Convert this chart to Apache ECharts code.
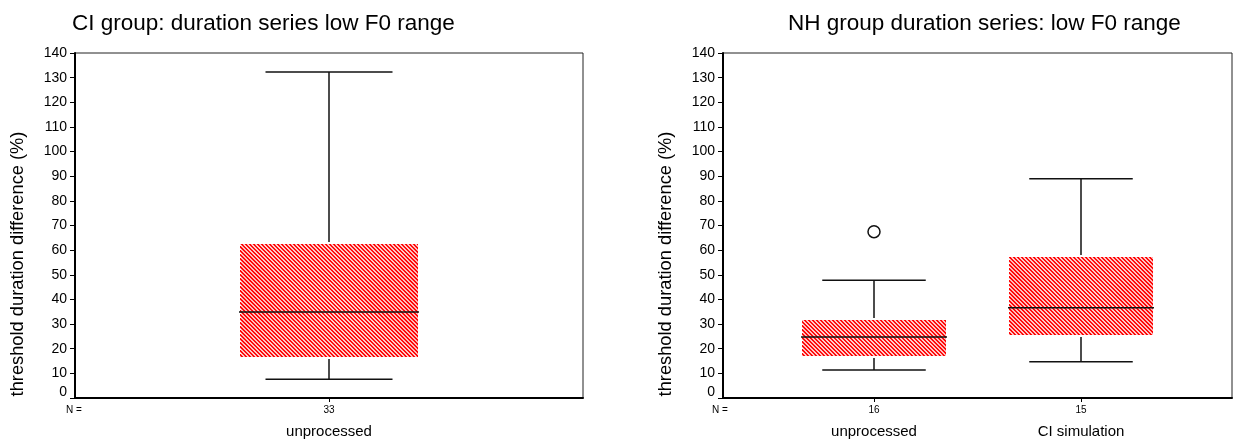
<!DOCTYPE html>
<html>
<head>
<meta charset="utf-8">
<script src="https://cdn.jsdelivr.net/npm/echarts@6/dist/echarts.min.js"></script>
<style>
  html, body { margin: 0; padding: 0; background: #fff; }
  #chart { width: 1234px; height: 441px; }
</style>
</head>
<body>
<div id="chart"></div>
<script>
// ---- data ----
const leftTitle = 'CI group: duration series low F0 range';
const rightTitle = 'NH group duration series: low F0 range';
const yAxisTitle = 'threshold duration difference (%)';
const yTicks = [0, 140, 10]; // min, max, step

const leftCategories = ['unprocessed'];
const leftN = [33];
// [lower whisker, Q1, median, Q3, upper whisker]
const leftBoxes = [[7.6, 16.6, 34.9, 62.4, 132.3]];

const rightCategories = ['unprocessed', 'CI simulation'];
const rightN = [16, 15];
const rightBoxes = [
  [11.4, 17.0, 24.8, 31.7, 47.8],
  [14.7, 25.7, 36.6, 57.1, 89.0]
];
// [category index (0-based), value]
const rightOutliers = [[0, 67.5]];

// ---- styling helpers ----
const FONT = '"Liberation Sans", Arial, Helvetica, sans-serif';

function boxRender(params, api) {
  const x = api.value(0);
  const lo = api.value(1), q1 = api.value(2), md = api.value(3), q3 = api.value(4), hi = api.value(5);
  const bw = 0.35, cw = 0.25;
  const pL = Math.round(api.coord([x - bw, md])[0]);
  const pR = Math.round(api.coord([x + bw, md])[0]);
  const cL = api.coord([x - cw, md])[0];
  const cR = api.coord([x + cw, md])[0];
  const xc = api.coord([x, md])[0];
  const yLo = api.coord([x, lo])[1];
  const yQ1 = Math.round(api.coord([x, q1])[1]);
  const yMd = api.coord([x, md])[1];
  const yQ3 = Math.round(api.coord([x, q3])[1]);
  const yHi = api.coord([x, hi])[1];
  const ls = { stroke: '#111', lineWidth: 1.5 };
  const w = pR - pL, h = yQ1 - yQ3;
  const hatchLines = [];
  for (let k = -h; k < w; k += 4) {
    hatchLines.push({
      type: 'line',
      shape: { x1: pL + k + 0.5, y1: yQ3, x2: pL + k + h + 0.5, y2: yQ1 },
      style: { stroke: '#fff', lineWidth: 1.15 }
    });
  }
  return {
    type: 'group',
    children: [
      { type: 'line', shape: { x1: xc, y1: yHi, x2: xc, y2: yQ3 - 2 }, style: ls },
      { type: 'line', shape: { x1: xc, y1: yQ1 + 2, x2: xc, y2: yLo }, style: ls },
      { type: 'line', shape: { x1: cL, y1: yHi, x2: cR, y2: yHi }, style: ls },
      { type: 'line', shape: { x1: cL, y1: yLo, x2: cR, y2: yLo }, style: ls },
      {
        type: 'group',
        clipPath: { type: 'rect', shape: { x: pL, y: yQ3, width: w, height: h } },
        children: [{ type: 'rect', shape: { x: pL, y: yQ3, width: w, height: h }, style: { fill: '#ff0000' } }].concat(hatchLines)
      },
      { type: 'line', shape: { x1: pL - 1, y1: yMd, x2: pR + 1, y2: yMd }, style: ls }
    ]
  };
}

function makeXAxis(gridIndex, min, max, cats, ns) {
  const vals = cats.map((c, i) => i + 1);
  return {
    type: 'value', gridIndex, min, max,
    axisLine: { show: true, lineStyle: { color: '#000', width: 2 } },
    axisTick: { show: true, customValues: vals, length: 4, lineStyle: { color: '#000', width: 1 } },
    axisLabel: {
      customValues: vals, margin: 6, color: '#000', fontFamily: FONT,
      formatter: (v) => {
        const i = Math.round(v) - 1;
        return '{n|' + ns[i] + '}\n{c|' + cats[i] + '}';
      },
      rich: {
        n: { fontSize: 10, lineHeight: 13, fontFamily: FONT, color: '#000' },
        c: { fontSize: 15, lineHeight: 30, fontFamily: FONT, color: '#000' }
      }
    },
    splitLine: { show: false }
  };
}

function makeYAxis(gridIndex) {
  return {
    type: 'value', gridIndex, min: yTicks[0], max: yTicks[1], interval: yTicks[2],
    axisLine: { show: true, lineStyle: { color: '#000', width: 2 } },
    axisTick: { show: true, length: 5, lineStyle: { color: '#000', width: 1 } },
    axisLabel: {
      color: '#000', fontSize: 14, fontFamily: FONT, margin: 8,
      formatter: (v) => v === 0 ? '{z|0}' : String(v),
      rich: { z: { fontSize: 14, fontFamily: FONT, color: '#000', padding: [0, 0, 12, 0] } }
    },
    splitLine: { show: false }
  };
}

const chart = echarts.init(document.getElementById('chart'), null, { renderer: 'canvas' });
chart.setOption({
  backgroundColor: '#fff',
  animation: false,
  title: [
    { text: leftTitle, left: 72, top: 12, padding: 0, textStyle: { fontSize: 22.5, fontWeight: 'normal', color: '#000', fontFamily: FONT } },
    { text: rightTitle, left: 788, top: 12, padding: 0, textStyle: { fontSize: 22.5, fontWeight: 'normal', color: '#000', fontFamily: FONT } }
  ],
  grid: [
    { left: 75, top: 53, width: 508, height: 345, show: true, borderColor: '#222', borderWidth: 1, backgroundColor: 'transparent' },
    { left: 723, top: 53, width: 509, height: 345, show: true, borderColor: '#222', borderWidth: 1, backgroundColor: 'transparent' }
  ],
  xAxis: [
    makeXAxis(0, 0, 2, leftCategories, leftN),
    makeXAxis(1, 1 - 151 / 207, 2 + 151 / 207, rightCategories, rightN)
  ],
  yAxis: [makeYAxis(0), makeYAxis(1)],
  graphic: [
    { type: 'text', x: 18, y: 264, rotation: Math.PI / 2, style: { text: yAxisTitle, fontSize: 18.3, fontFamily: FONT, fill: '#000', textAlign: 'center', textVerticalAlign: 'middle' } },
    { type: 'text', x: 666, y: 264, rotation: Math.PI / 2, style: { text: yAxisTitle, fontSize: 18.3, fontFamily: FONT, fill: '#000', textAlign: 'center', textVerticalAlign: 'middle' } },
    { type: 'text', x: 74, y: 410.5, style: { text: 'N =', fontSize: 10, fontFamily: FONT, fill: '#000', textAlign: 'center', textVerticalAlign: 'middle' } },
    { type: 'text', x: 720, y: 410.5, style: { text: 'N =', fontSize: 10, fontFamily: FONT, fill: '#000', textAlign: 'center', textVerticalAlign: 'middle' } }
  ],
  series: [
    {
      type: 'custom', xAxisIndex: 0, yAxisIndex: 0,
      renderItem: boxRender,
      encode: { x: 0, y: [1, 2, 3, 4, 5] },
      data: leftBoxes.map((b, i) => [i + 1].concat(b))
    },
    {
      type: 'custom', xAxisIndex: 1, yAxisIndex: 1,
      renderItem: boxRender,
      encode: { x: 0, y: [1, 2, 3, 4, 5] },
      data: rightBoxes.map((b, i) => [i + 1].concat(b))
    },
    {
      type: 'scatter', xAxisIndex: 1, yAxisIndex: 1,
      symbol: 'circle', symbolSize: 12,
      itemStyle: { color: '#fff', borderColor: '#111', borderWidth: 1.5, opacity: 1 },
      data: rightOutliers.map((o) => [o[0] + 1, o[1]])
    }
  ]
});
</script>
</body>
</html>
